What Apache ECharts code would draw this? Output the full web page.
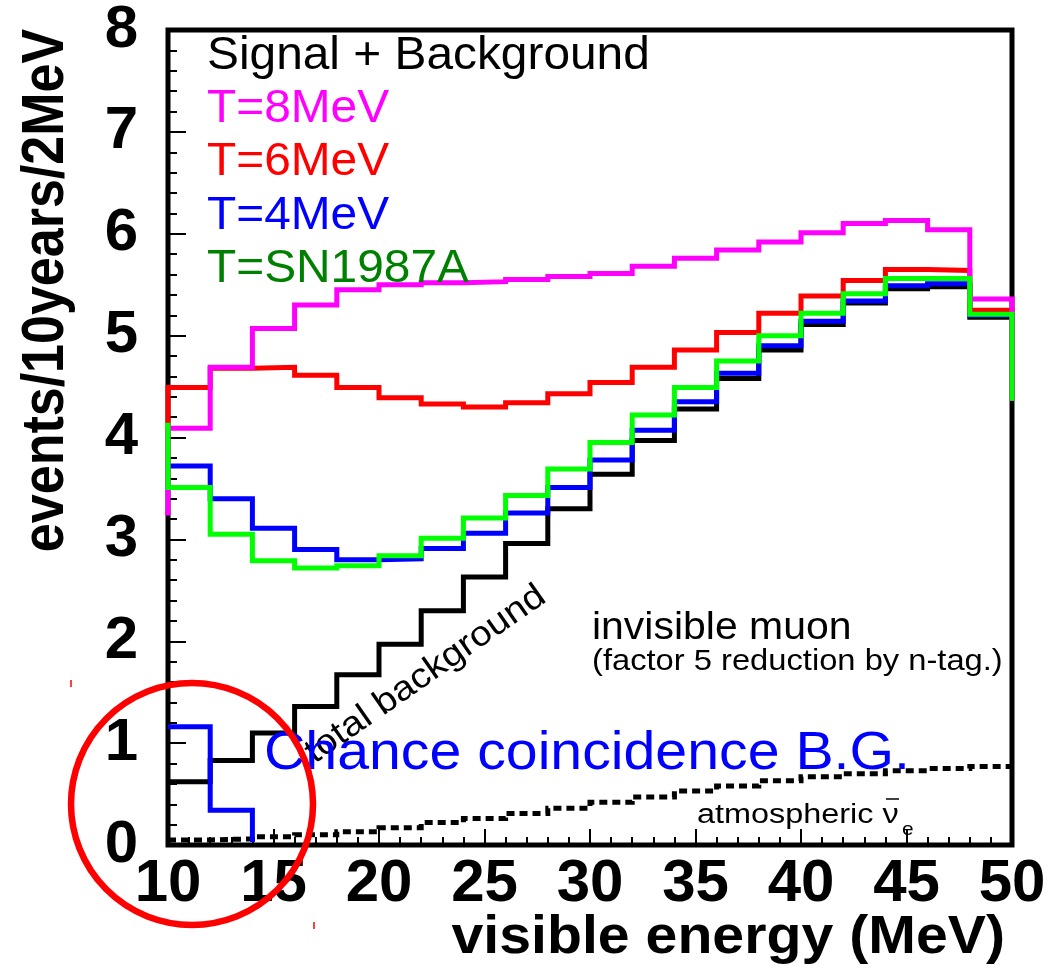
<!DOCTYPE html>
<html>
<head>
<meta charset="utf-8">
<script src="https://cdn.jsdelivr.net/npm/echarts@6/dist/echarts.min.js"></script>
<style>
html,body{margin:0;padding:0;background:#fff;}
#chart{width:1060px;height:972px;}
</style>
</head>
<body>
<div id="chart"></div>
<script>
// ---- data ----
const binEdges = [10,12,14,16,18,20,22,24,26,28,30,32,34,36,38,40,42,44,46,48,50];
const xTicks = [10,15,20,25,30,35,40,45,50];
const yTicks = [0,1,2,3,4,5,6,7,8];

const totalBackground = [0.62,0.83,1.10,1.36,1.67,1.97,2.30,2.63,2.96,3.30,3.64,3.97,4.28,4.58,4.86,5.11,5.32,5.46,5.48,5.18];
const atmosphericNue  = [0.05,0.06,0.08,0.10,0.13,0.17,0.22,0.26,0.31,0.36,0.42,0.47,0.53,0.58,0.63,0.67,0.70,0.73,0.75,0.77];
const chanceCoinc     = [1.16,0.34];
const chanceEnd       = 0.03;
const t4MeV  = [3.72,3.40,3.11,2.90,2.80,2.81,2.91,3.06,3.26,3.51,3.78,4.07,4.35,4.63,4.90,5.14,5.34,5.49,5.51,5.20];
const t6MeV  = [4.49,4.68,4.69,4.61,4.49,4.39,4.33,4.30,4.34,4.43,4.54,4.69,4.86,5.03,5.22,5.39,5.54,5.65,5.64,5.25];
const t8MeV  = [4.09,4.69,5.07,5.30,5.45,5.50,5.52,5.53,5.55,5.58,5.61,5.68,5.76,5.84,5.92,6.01,6.10,6.13,6.04,5.36];
const sn1987A= [3.51,3.05,2.79,2.72,2.74,2.84,3.01,3.21,3.43,3.69,3.95,4.22,4.49,4.75,5.00,5.22,5.41,5.56,5.56,5.21];
// values just outside the plotted range (visible only as edge drops)
const underflow = {t8:3.26, t6:4.12, sn:4.12};
const overflow  = {t8:4.36, t6:4.36, t4:4.36, sn:4.36};

const legendTexts = ['Signal + Background','T=8MeV','T=6MeV','T=4MeV','T=SN1987A'];

// ---- helpers ----
function histData(values, under, over){
  const w = binEdges[1]-binEdges[0];
  const pts = [];
  if (under != null) pts.push([binEdges[0]-w, under]);
  values.forEach((v,i)=>pts.push([binEdges[i], v]));
  const n = values.length;
  pts.push([binEdges[n], over != null ? over : values[n-1]]);
  return pts;
}
function hist(name, data, color, width, type, z){
  return {
    name, type:'line', step:'end', data, symbol:'none', showSymbol:false,
    clip:true, silent:true, animation:false, z:z,
    lineStyle:{color, width, type: type||'solid', join:'miter', cap:'butt'}
  };
}

const FONT = '"Liberation Sans", Arial, Helvetica, sans-serif';
function txt(text, x, y, size, color, opts){
  opts = opts || {};
  return {
    type:'text', x, y, z:100, rotation: opts.rotation||0,
    scaleX: opts.scaleX||1, scaleY: opts.scaleY||1, silent:true,
    style:{text, fill:color, font:(opts.weight||'normal')+' '+size+'px '+FONT,
           textAlign: opts.align||'left', textVerticalAlign:'middle'}
  };
}
// baseline -> middle offset
function mid(baseline, size, sy){ return baseline - 0.3465*size*(sy||1); }

const chart = echarts.init(document.getElementById('chart'), null, {renderer:'canvas'});

const option = {
  backgroundColor:'#ffffff',
  animation:false,
  grid:{left:168, top:29, width:844, height:816, show:true, borderWidth:5, borderColor:'#000', backgroundColor:'transparent'},
  xAxis:{
    type:'value', min:10, max:50, interval:5,
    axisLine:{show:false},
    axisTick:{show:true, inside:true, length:16, lineStyle:{color:'#000', width:2}},
    minorTick:{show:true, splitNumber:5, length:8, lineStyle:{color:'#000', width:2}},
    splitLine:{show:false},
    axisLabel:{show:true, margin:9, color:'#000', fontSize:60, fontWeight:'bold', fontFamily:FONT,
      formatter: v => xTicks.indexOf(v) >= 0 ? String(v) : ''}
  },
  yAxis:{
    type:'value', min:0, max:8, interval:1,
    axisLine:{show:false},
    axisTick:{show:true, inside:true, length:18, lineStyle:{color:'#000', width:2}},
    minorTick:{show:true, splitNumber:5, length:9, lineStyle:{color:'#000', width:2}},
    splitLine:{show:false},
    axisLabel:{show:true, margin:30, color:'#000', fontSize:60, fontWeight:'bold', fontFamily:FONT,
      formatter: v => yTicks.indexOf(v) >= 0 ? String(v) : ''}
  },
  series:[
    hist('total background', histData(totalBackground), '#000000', 5, 'solid', 2),
    hist('atmospheric', histData(atmosphericNue), '#000000', 5, [8,5], 3),
    hist('chance coincidence', (function(){const p=[];chanceCoinc.forEach((v,i)=>p.push([binEdges[i],v]));p.push([binEdges[chanceCoinc.length],chanceEnd]);return p;})(), '#0000ff', 5, 'solid', 4),
    hist('T=4MeV', histData(t4MeV, null, overflow.t4), '#0000ff', 5, 'solid', 5),
    hist('T=6MeV', histData(t6MeV, underflow.t6, overflow.t6), '#ff0000', 5, 'solid', 6),
    hist('T=8MeV', histData(t8MeV, underflow.t8, overflow.t8), '#ff00ff', 5, 'solid', 7),
    hist('T=SN1987A', histData(sn1987A, underflow.sn, overflow.sn), '#00ff00', 5, 'solid', 8)
  ],
  graphic:[
    // legend-like texts
    txt(legendTexts[0], 207, mid(72,46), 46, '#000000', {scaleX:1.04}),
    txt(legendTexts[1], 207, mid(125,46), 46, '#ff00ff', {scaleX:1.04}),
    txt(legendTexts[2], 207, mid(178,46), 46, '#ff0000', {scaleX:1.04}),
    txt(legendTexts[3], 207, mid(232,46), 46, '#0000ff', {scaleX:1.04}),
    txt(legendTexts[4], 207, mid(285,46), 46, '#008000', {scaleX:1.04}),
    // axis titles
    txt('events/10years/2MeV', 47, 290.5, 52, '#000000', {weight:'bold', rotation:Math.PI/2, align:'center', scaleY:1.15}),
    txt('visible energy (MeV)', 1005, mid(957,54), 54, '#000000', {weight:'bold', align:'right', scaleX:1.06}),
    // annotations
    txt('invisible muon', 592, mid(642,39), 39, '#000000', {scaleX:1.05}),
    txt('(factor 5 reduction by n-tag.)', 592, mid(672,30), 30, '#000000', {scaleX:1.09}),
    txt('atmospheric \u03BD', 697, mid(825,27), 27, '#000000', {scaleX:1.2}),
    {type:'line', z:100, silent:true, shape:{x1:886, y1:799, x2:899, y2:799}, style:{stroke:'#000', lineWidth:1.5}},
    txt('e', 902, mid(836,19), 19, '#000000', {scaleX:1.1}),
    txt('total background', 309, 756, 35, '#000000', {rotation:35*Math.PI/180, scaleX:1.1}),
    txt('Chance coincidence B.G.', 264, mid(773,53), 53, '#0000ff', {scaleX:1.08}),
    // red circle highlight
    {type:'circle', z:110, silent:true, shape:{cx:192, cy:804, r:121}, style:{fill:'none', stroke:'#ff0000', lineWidth:6.5}},
    {type:'line', z:110, silent:true, shape:{x1:71, y1:680, x2:71, y2:687}, style:{stroke:'#ff0000', lineWidth:1.5}},
    {type:'line', z:110, silent:true, shape:{x1:314, y1:922, x2:314, y2:929}, style:{stroke:'#ff0000', lineWidth:1.5}}
  ]
};
chart.setOption(option);
</script>
</body>
</html>
